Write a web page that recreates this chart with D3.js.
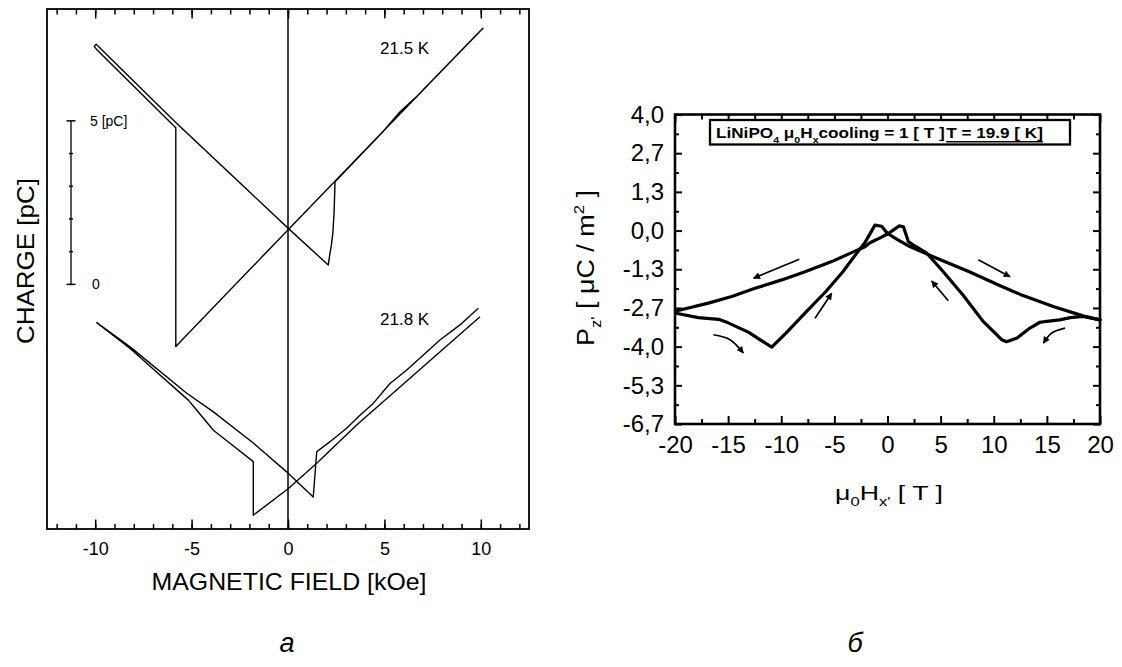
<!DOCTYPE html>
<html>
<head>
<meta charset="utf-8">
<script src="https://cdn.jsdelivr.net/npm/d3@7"></script>
<style>
  html, body { margin: 0; padding: 0; background: #fff; }
  svg { display: block; }
  text { font-family: "Liberation Sans", Arial, sans-serif; fill: #000; white-space: pre; }
</style>
</head>
<body>
<svg id="fig" width="1122" height="667"></svg>
<script>
// ---------- Panel (a): charge versus magnetic field ----------
const fieldTicksA = [-10, -5, 0, 5, 10];
const fieldLabelsA = ["-10", "-5", "0", "5", "10"];
const fieldMinorA = d3.range(-12, 13, 1);
const chargeBarTicks = [0, 1, 2, 3, 4, 5];

// 21.5 K loop (field in kOe, charge in pC, relative to the scale bar)
const field215 = [10.1, 5.0, 0.02, -5.82, -5.82, -9.9, -10.05, -9.95, -5.82, 0.0, 2.09, 2.15, 2.25, 2.33, 2.39, 2.44, 4.9, 5.8, 6.7, 10.13];
const charge215 = [7.82, 4.72, 1.68, -1.9, 4.79, 7.17, 7.27, 7.34, 4.95, 1.72, 0.59, 0.85, 1.2, 1.6, 2.2, 3.14, 4.65, 5.27, 5.76, 7.85];

// 21.8 K loop
const field218 = [9.96, 3.56, 1.49, 0.02, -1.8, -1.8, -3.01, -3.87, -4.74, -5.17, -8.19, -9.92, -8.19, -5.25, -3.87, -1.8, 0.02, 1.31, 1.49, 2.18, 3.04, 3.73, 4.42, 5.29, 6.16, 7.88, 8.92, 9.87];
const charge218 = [-0.99, -4.3, -5.47, -6.24, -7.06, -5.42, -4.86, -4.46, -3.84, -3.54, -1.96, -1.17, -1.91, -3.33, -3.9, -4.85, -5.78, -6.5, -5.12, -4.81, -4.4, -4.0, -3.64, -3.03, -2.62, -1.7, -1.24, -0.73];

const tempLabels = ["21.5 K", "21.8 K"];

// ---------- Panel (b): polarization versus field ----------
const fieldTicksB = [-20, -15, -10, -5, 0, 5, 10, 15, 20];
const fieldLabelsB = ["-20", "-15", "-10", "-5", "0", "5", "10", "15", "20"];
const fieldMinorB = d3.range(-17.5, 20, 5);
const polTicksB = [-20/3, -16/3, -4, -8/3, -4/3, 0, 4/3, 8/3, 4];
const polLabelsB = ["-6,7", "-5,3", "-4,0", "-2,7", "-1,3", "0,0", "1,3", "2,7", "4,0"];
const polMinorB = [-6, -14/3, -10/3, -2, -2/3, 2/3, 2, 10/3];

// sweep from -20 T through the lower-left dip, over the central bump, out along the upper-right line
const fieldUpB = [-19.9, -17.8, -15.9, -15.0, -13.1, -10.9, -9.6, -7.7, -5.8, -4.2, -3.0, -2.1, -1.5, -1.18, -0.55, 0.0, 0.9, 2.1, 4.3, 7.7, 10.6, 12.5, 15.6, 18.4, 20.0];
const polUpB = [-2.85, -3.0, -3.06, -3.18, -3.5, -4.02, -3.55, -2.82, -2.1, -1.42, -0.83, -0.4, -0.02, 0.19, 0.15, -0.1, -0.3, -0.55, -0.9, -1.42, -1.9, -2.2, -2.62, -2.94, -3.08];

// sweep from +20 T through the lower-right dip, over the central bump, out along the upper-left line
const fieldDownB = [20.0, 18.4, 17.2, 16.2, 15.0, 14.35, 13.4, 12.2, 11.2, 10.75, 9.0, 7.1, 5.25, 3.7, 2.45, 1.96, 1.5, 1.11, 0.4, 0.0, -0.8, -1.65, -2.12, -3.37, -5.25, -7.76, -9.96, -12.47, -14.66, -16.86, -19.9];
const polDownB = [-3.08, -2.96, -3.0, -3.08, -3.13, -3.16, -3.36, -3.7, -3.83, -3.76, -3.13, -2.22, -1.42, -0.78, -0.5, -0.38, 0.13, 0.16, -0.02, -0.12, -0.27, -0.42, -0.56, -0.76, -1.07, -1.42, -1.7, -1.99, -2.27, -2.5, -2.77];

// direction arrows
const arrowFieldB = [[-8.3, -12.6], [8.55, 11.53], [-16.39, -14.82, -13.57], [-6.82, -5.25], [5.72, 4.16], [16.71, 15.46, 14.68]];
const arrowPolB = [[-0.99, -1.64], [-1.01, -1.59], [-3.59, -3.76, -4.22], [-3.02, -2.16], [-2.42, -1.74], [-3.36, -3.53, -3.88]];

const svg = d3.select("#fig");

svg.append("defs").append("marker")
  .attr("id", "head")
  .attr("viewBox", "0 0 10 10")
  .attr("refX", 9).attr("refY", 5)
  .attr("markerWidth", 9).attr("markerHeight", 7)
  .attr("markerUnits", "userSpaceOnUse")
  .attr("orient", "auto")
  .append("path").attr("d", "M0,0 L10,5 L0,10 Z").attr("fill", "#000");

function zip(xs, ys) { return xs.map((v, i) => [v, ys[i]]); }

// rich text with sub/superscripts
function rich(textSel, parts, fs) {
  let shift = 0;
  parts.forEach(p => {
    const target = p.s === "sub" ? fs * 0.3 : p.s === "sup" ? -fs * 0.42 : 0;
    textSel.append("tspan")
      .attr("dy", target - shift)
      .attr("font-size", p.s ? fs * 0.62 : fs)
      .text(p.t);
    shift = target;
  });
}

// ================= Panel (a) =================
const xA = d3.scaleLinear().domain([-12.5, 12.5]).range([47, 529]);
const yA = d3.scaleLinear().domain([-7.48, 8.42]).range([529, 9]);
const gA = svg.append("g");

// zero-field line
gA.append("line")
  .attr("x1", xA(0)).attr("x2", xA(0))
  .attr("y1", yA.range()[1]).attr("y2", yA.range()[0])
  .attr("stroke", "#000").attr("stroke-width", 1.5);

// ticks on bottom and top
function ticksA(axisFn, y, values, size, fmt) {
  const ax = axisFn(xA).tickValues(values).tickSize(-size).tickPadding(13);
  ax.tickFormat(fmt ? (d, i) => fmt[i] : () => "");
  const g = gA.append("g").attr("transform", `translate(0,${y})`).call(ax);
  g.select(".domain").remove();
  g.selectAll(".tick line").attr("stroke", "#000").attr("stroke-width", 1.5);
  g.selectAll(".tick text").attr("font-size", 18).attr("font-family", "Liberation Sans, Arial, sans-serif");
  return g;
}
ticksA(d3.axisBottom, yA.range()[0], fieldMinorA, 5);
ticksA(d3.axisBottom, yA.range()[0], fieldTicksA, 9.5, fieldLabelsA);
ticksA(d3.axisTop, yA.range()[1], fieldMinorA, 5.5);
ticksA(d3.axisTop, yA.range()[1], fieldTicksA, 9.5);

gA.append("rect")
  .attr("x", xA.range()[0]).attr("y", yA.range()[1])
  .attr("width", xA.range()[1] - xA.range()[0])
  .attr("height", yA.range()[0] - yA.range()[1])
  .attr("fill", "none").attr("stroke", "#000").attr("stroke-width", 1.8);

// charge scale bar
const barX = 71;
gA.append("line")
  .attr("x1", barX).attr("x2", barX)
  .attr("y1", yA(d3.min(chargeBarTicks))).attr("y2", yA(d3.max(chargeBarTicks)))
  .attr("stroke", "#000").attr("stroke-width", 1.3);
gA.selectAll(".bartick").data(chargeBarTicks).join("line")
  .attr("x1", (d, i) => (i === 0 || i === chargeBarTicks.length - 1) ? barX - 4.5 : barX - 2)
  .attr("x2", (d, i) => (i === 0 || i === chargeBarTicks.length - 1) ? barX + 4.5 : barX + 2)
  .attr("y1", d => yA(d)).attr("y2", d => yA(d))
  .attr("stroke", "#000").attr("stroke-width", 1.5);
gA.append("text").attr("x", 90).attr("y", yA(5) + 5).attr("font-size", 14).text("5 [pC]");
gA.append("text").attr("x", 92).attr("y", yA(0) + 5).attr("font-size", 14).text("0");

// hysteresis loops
const lineA = d3.line().x(d => xA(d[0])).y(d => yA(d[1]));
[zip(field215, charge215), zip(field218, charge218)].forEach(pts => {
  gA.append("path").attr("d", lineA(pts))
    .attr("fill", "none").attr("stroke", "#000")
    .attr("stroke-width", 1.4).attr("stroke-linejoin", "round");
});

gA.append("text").attr("x", 380).attr("y", 53.5).attr("font-size", 17).text(tempLabels[0]);
gA.append("text").attr("x", 380).attr("y", 325).attr("font-size", 17).text(tempLabels[1]);

gA.append("text")
  .attr("x", 289).attr("y", 590).attr("text-anchor", "middle")
  .attr("font-size", 24).attr("textLength", 275).attr("lengthAdjust", "spacingAndGlyphs")
  .text("MAGNETIC FIELD [kOe]");
gA.append("text")
  .attr("transform", "translate(33.5,261) rotate(-90)")
  .attr("text-anchor", "middle")
  .attr("font-size", 24).attr("textLength", 166).attr("lengthAdjust", "spacingAndGlyphs")
  .text("CHARGE [pC]");

// ================= Panel (b) =================
const xB = d3.scaleLinear().domain([-20, 20]).range([675, 1100]);
const yB = d3.scaleLinear().domain([-20/3, 4]).range([424, 114.5]);
const gB = svg.append("g");

function styleAxis(g) {
  g.select(".domain").remove();
  g.selectAll(".tick line").attr("stroke", "#000").attr("stroke-width", 2);
  g.selectAll(".tick text").attr("font-size", 24).attr("font-family", "Liberation Sans, Arial, sans-serif");
}
const plotBottom = yB.range()[0], plotTop = yB.range()[1];
const plotLeft = xB.range()[0], plotRight = xB.range()[1];

gB.append("g").attr("transform", `translate(0,${plotBottom})`)
  .call(d3.axisBottom(xB).tickValues(fieldMinorB).tickSize(-5).tickFormat(() => "")).call(styleAxis);
gB.append("g").attr("transform", `translate(0,${plotBottom})`)
  .call(d3.axisBottom(xB).tickValues(fieldTicksB).tickSize(-8).tickPadding(12)
    .tickFormat((d, i) => fieldLabelsB[i])).call(styleAxis);
gB.append("g").attr("transform", `translate(0,${plotTop})`)
  .call(d3.axisTop(xB).tickValues(fieldMinorB).tickSize(-5).tickFormat(() => "")).call(styleAxis);
gB.append("g").attr("transform", `translate(0,${plotTop})`)
  .call(d3.axisTop(xB).tickValues(fieldTicksB).tickSize(-8).tickFormat(() => "")).call(styleAxis);

gB.append("g").attr("transform", `translate(${plotLeft},0)`)
  .call(d3.axisLeft(yB).tickValues(polMinorB).tickSize(-4).tickFormat(() => "")).call(styleAxis);
gB.append("g").attr("transform", `translate(${plotLeft},0)`)
  .call(d3.axisLeft(yB).tickValues(polTicksB).tickSize(-7).tickPadding(11)
    .tickFormat((d, i) => polLabelsB[i])).call(styleAxis);
gB.append("g").attr("transform", `translate(${plotRight},0)`)
  .call(d3.axisRight(yB).tickValues(polMinorB).tickSize(-4).tickFormat(() => "")).call(styleAxis);
gB.append("g").attr("transform", `translate(${plotRight},0)`)
  .call(d3.axisRight(yB).tickValues(polTicksB).tickSize(-7).tickFormat(() => "")).call(styleAxis);

gB.append("rect")
  .attr("x", plotLeft).attr("y", plotTop)
  .attr("width", plotRight - plotLeft).attr("height", plotBottom - plotTop)
  .attr("fill", "none").attr("stroke", "#000").attr("stroke-width", 2.6);

// legend box
const legendX = 716, legendBase = 138.3, legendW = 327;
gB.append("rect").attr("x", 710).attr("y", 120).attr("width", 360).attr("height", 24.5)
  .attr("fill", "#fff").attr("stroke", "#000").attr("stroke-width", 2.3);
const lg = gB.append("g").attr("transform", `translate(${legendX},${legendBase})`);
const lgi = lg.append("g");
const t1 = lgi.append("text").attr("x", 0).attr("y", 0).attr("font-weight", "bold");
rich(t1, [{t: "LiNiPO"}, {t: "4", s: "sub"}, {t: " μ"}, {t: "0", s: "sub"}, {t: "H"}, {t: "x", s: "sub"}, {t: "cooling = 1 [ T ]"}], 14.5);
const w1 = t1.node().getComputedTextLength();
const t2 = lgi.append("text").attr("x", w1 + 1).attr("y", 0).attr("font-weight", "bold").attr("font-size", 14.5)
  .text("T = 19.9 [ K]");
const w2 = t2.node().getComputedTextLength();
lgi.append("line").attr("x1", w1 + 1).attr("x2", w1 + 1 + w2).attr("y1", 3.5).attr("y2", 3.5)
  .attr("stroke", "#000").attr("stroke-width", 1.4);
lgi.attr("transform", `scale(${legendW / (w1 + 1 + w2)},1)`);

// polarization loops
const lineB = d3.line().x(d => xB(d[0])).y(d => yB(d[1]));
[zip(fieldUpB, polUpB), zip(fieldDownB, polDownB)].forEach(pts => {
  gB.append("path").attr("d", lineB(pts))
    .attr("fill", "none").attr("stroke", "#000")
    .attr("stroke-width", 3.2).attr("stroke-linejoin", "round").attr("stroke-linecap", "round");
});

// sweep-direction arrows
const arrowLine = d3.line().x(d => xB(d[0])).y(d => yB(d[1])).curve(d3.curveCatmullRom);
arrowFieldB.forEach((xs, i) => {
  gB.append("path").attr("d", arrowLine(zip(xs, arrowPolB[i])))
    .attr("fill", "none").attr("stroke", "#000").attr("stroke-width", 1.7)
    .attr("marker-end", "url(#head)");
});

// axis titles
function fittedLabel(parent, transform, parts, fs, width) {
  const g = parent.append("g").attr("transform", transform);
  const t = g.append("text").attr("text-anchor", "middle").attr("x", 0).attr("y", 0);
  rich(t, parts, fs);
  const w = t.node().getComputedTextLength();
  t.attr("transform", `scale(${width / w},1)`);
}
fittedLabel(gB, "translate(594,268) rotate(-90)",
  [{t: "P"}, {t: "z'", s: "sub"}, {t: " [ μC / m"}, {t: "2", s: "sup"}, {t: " ]"}], 23, 156);
fittedLabel(gB, "translate(889,500)",
  [{t: "μ"}, {t: "0", s: "sub"}, {t: "H"}, {t: "x'", s: "sub"}, {t: " [ T ]"}], 21, 108);

// panel letters
svg.append("text").attr("x", 287).attr("y", 652).attr("text-anchor", "middle")
  .attr("font-family", "Liberation Serif, Times New Roman, serif").attr("font-style", "italic")
  .attr("font-size", 27).text("а");
svg.append("text").attr("x", 855).attr("y", 652).attr("text-anchor", "middle")
  .attr("font-family", "Liberation Serif, Times New Roman, serif").attr("font-style", "italic")
  .attr("font-size", 27).text("б");
</script>
</body>
</html>
